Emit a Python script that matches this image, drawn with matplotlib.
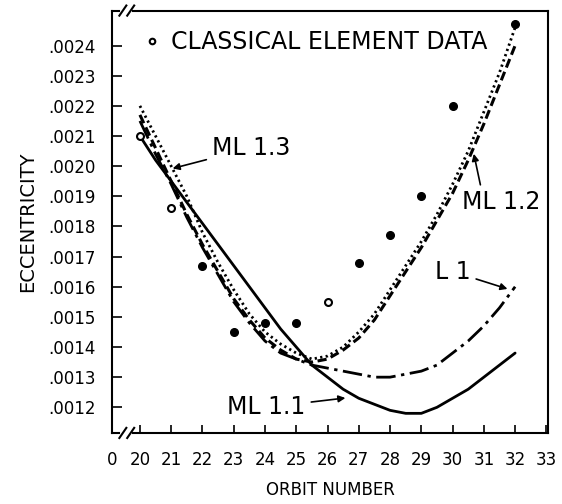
import numpy as np
import matplotlib.pyplot as plt

# orbit grid for the fitted curves (every half orbit)
orbit = [20, 20.5, 21, 21.5, 22, 22.5, 23, 23.5, 24, 24.5, 25, 25.5, 26,
         26.5, 27, 27.5, 28, 28.5, 29, 29.5, 30, 30.5, 31, 31.5, 32]

ml11 = [.00210, .00202, .00195, .00188, .00181, .00174, .00167, .00160, .00153,
        .00146, .00140, .00134, .00130, .00126, .00123, .00121, .00119, .00118,
        .00118, .00120, .00123, .00126, .00130, .00134, .00138]
ml12 = [.00217, .00206, .00195, .00184, .00174, .00165, .00156, .00149, .00143,
        .00139, .00136, .00135, .00136, .00139, .00143, .00149, .00157, .00165,
        .00173, .00182, .00191, .00202, .00214, .00227, .00240]
ml13 = [.00220, .00210, .00200, .00190, .00178, .00168, .00159, .00151, .00145,
        .00141, .00138, .00136, .00137, .00140, .00145, .00151, .00159, .00167,
        .00175, .00184, .00194, .00205, .00218, .00231, .00246]
l1 = [.00215, .00204, .00194, .00183, .00173, .00164, .00155, .00148, .00142,
      .00138, .00136, .00134, .00133, .00132, .00131, .00130, .00130, .00131,
      .00132, .00134, .00138, .00142, .00147, .00153, .00160]

# classical element data (open circles at 20, 21, 26)
pts_open_x = [20, 21, 26]
pts_open_y = [.00210, .00186, .00155]
pts_fill_x = [22, 23, 24, 25, 27, 28, 29, 30, 32]
pts_fill_y = [.00167, .00145, .00148, .00148, .00168, .00177, .00190, .00220, .00247]

yticks = [.0012, .0013, .0014, .0015, .0016, .0017, .0018, .0019, .0020,
          .0021, .0022, .0023, .0024]
xticks = list(range(20, 34))

plt.rcParams['font.family'] = 'DejaVu Sans'
fig = plt.figure(figsize=(5.62, 5.04), dpi=100)
ax = fig.add_axes([0.200, 0.141, 0.775, 0.838])

ax.plot(orbit, ml11, color='black', lw=2.0, solid_capstyle='round')
ax.plot(orbit, ml12, color='black', lw=2.2, ls=(0, (3, 1.5)))
ax.plot(orbit, ml13, color='black', lw=2.0, ls=(0, (0.8, 1.2)))
ax.plot(orbit, l1, color='black', lw=2.0, ls=(0, (7, 2, 1.2, 2)))

ax.plot(pts_open_x, pts_open_y, 'o', ms=5, mfc='white', mec='black', mew=1.5,
        ls='none', label='CLASSICAL ELEMENT DATA')
ax.plot(pts_fill_x, pts_fill_y, 'o', ms=5.5, color='black', ls='none')

x0, x1 = 19.12, 33.05
ax.set_xlim(x0, x1)
ax.set_ylim(.001115, .002516)

ax.set_xticks([x0] + xticks)
ax.set_xticklabels(['0'] + [str(v) for v in xticks])
ax.set_yticks(yticks)
ax.set_yticklabels(['.%04d' % round(v * 10000) for v in yticks])
ax.tick_params(axis='both', direction='in', labelsize=12, width=1.2)
ax.tick_params(axis='y', length=7, pad=12)
ax.tick_params(axis='x', length=6, pad=13)
ax.set_xlabel('ORBIT NUMBER', fontsize=12, labelpad=9)
ax.set_ylabel('ECCENTRICITY', fontsize=14, labelpad=8)

# frame with axis breaks
for s in ['top', 'bottom']:
    ax.spines[s].set_visible(False)
for s in ['left', 'right']:
    ax.spines[s].set_linewidth(1.5)
kw = dict(transform=ax.transAxes, color='black', lw=1.5, clip_on=False)
for y in [0, 1]:
    ax.plot([0, 0.015], [y, y], **kw)
    ax.plot([0.048, 1], [y, y], **kw)
    for cx in [0.024, 0.042]:
        ax.plot([cx - 0.008, cx + 0.008], [y - 0.012, y + 0.012], **kw)

ax.legend(loc='center left', bbox_to_anchor=(0.075, 0.925), frameon=False,
          fontsize=17, handlelength=0.6, handletextpad=0.5, borderpad=0,
          borderaxespad=0, markerscale=0.8)

ann = dict(fontsize=17, va='center', ha='left',
           arrowprops=dict(arrowstyle='-|>', color='black', lw=1.2,
                           mutation_scale=10))
ax.annotate('ML 1.3', xy=(20.96, .00199), xytext=(22.3, .00206), **ann)
ax.annotate('ML 1.1', xy=(26.66, .001232), xytext=(22.8, .00120), **ann)
ax.annotate('L 1', xy=(31.84, .00159), xytext=(29.44, .00165), **ann)
ax.annotate('ML 1.2', xy=(30.66, .00205), xytext=(30.3, .00188),
            fontsize=17, va='center', ha='left',
            arrowprops=dict(arrowstyle='-|>', color='black', lw=1.2,
                            mutation_scale=10, relpos=(0.25, 1.0)))

fig.savefig('out.png', dpi=100)
